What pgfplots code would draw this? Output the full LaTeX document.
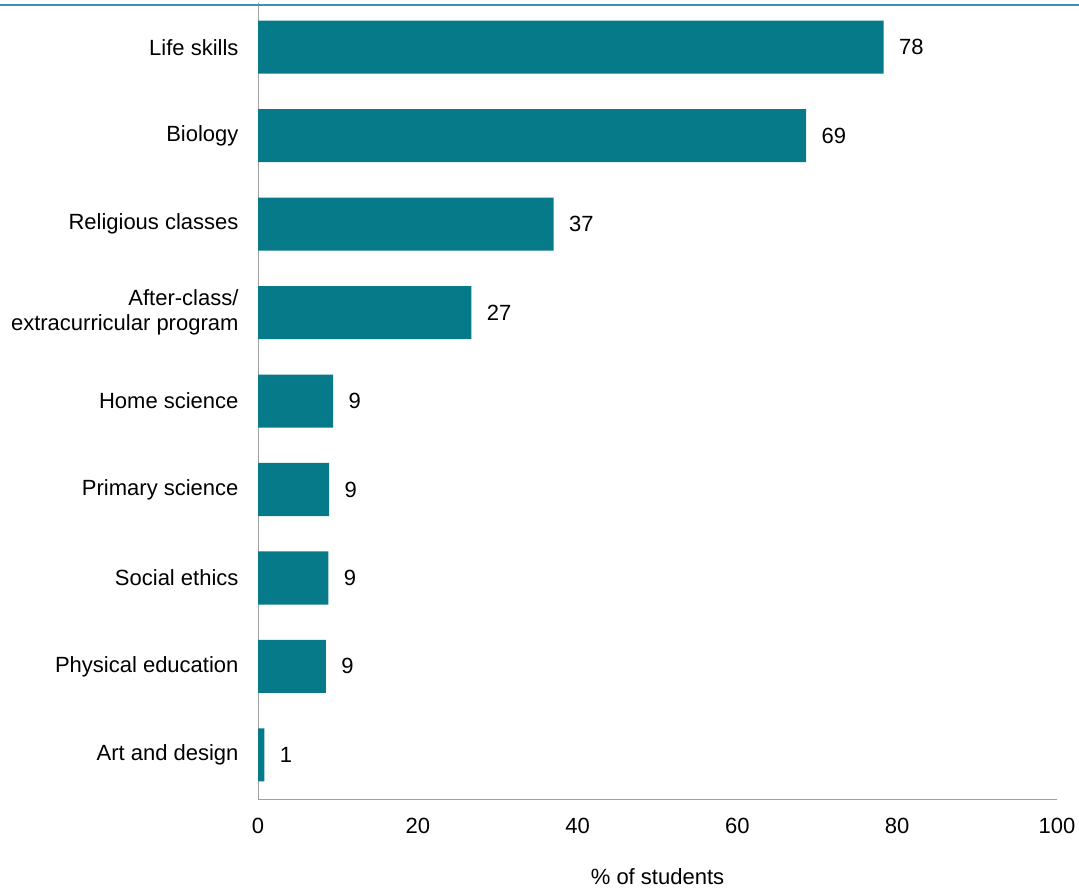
\documentclass[border=0pt]{standalone}
\usepackage{pgfplots}
\pgfplotsset{compat=1.18}
\usepackage{pgfplotstable}
\usepackage{fontspec}
\setmainfont{Liberation Sans}
\definecolor{barc}{RGB}{7,122,138}
\definecolor{topc}{RGB}{58,147,176}
\definecolor{axc}{RGB}{160,160,160}
\pgfplotstableread{
y x lab
0 0.8 1
1 8.5 9
2 8.8 9
3 8.9 9
4 9.4 9
5 26.7 27
6 37.0 37
7 68.6 69
8 78.3 78
}\datatable
\begin{document}
\fontsize{22bp}{25bp}\selectfont
\begin{tikzpicture}[x=1bp,y=1bp]
\path[use as bounding box] (0,0) rectangle (1079,888);
\begin{axis}[
  at={(258bp,88bp)}, anchor=south west,
  width=799bp, height=797bp, scale only axis,
  xbar, bar width=0.6,
  xmin=0, xmax=100, ymin=-0.51, ymax=8.5,
  xtick={0,20,...,100},
  ytick={0,...,8},
  yticklabels={Art and design,Physical education,Social ethics,Primary science,Home science,{After-class/\\extracurricular program},Religious classes,Biology,Life skills},
  major tick length=0pt,
  axis x line*=bottom, axis y line*=left,
  axis line style={draw=axc, line width=1bp, -},
  /pgf/number format/assume math mode=true,
  ticklabel style={font=\fontsize{22bp}{25bp}\selectfont},
  xticklabel style={yshift=-11bp},
  yticklabel style={align=right, xshift=-12bp},
  xlabel={\% of students},
  xlabel style={at={(axis description cs:0.5,0)}, anchor=center, yshift=-77bp, font=\fontsize{22bp}{25bp}\selectfont},
  point meta=explicit symbolic,
  nodes near coords,
  nodes near coords style={anchor=west, xshift=8bp, font=\fontsize{22bp}{25bp}\selectfont, text=black},
  clip=false,
]
\addplot[fill=barc, draw=none] table[x=x, y=y, meta=lab] {\datatable};
\end{axis}
\draw[topc, line width=1.5bp] (0,883) -- (1079,883);
\end{tikzpicture}
\end{document}
